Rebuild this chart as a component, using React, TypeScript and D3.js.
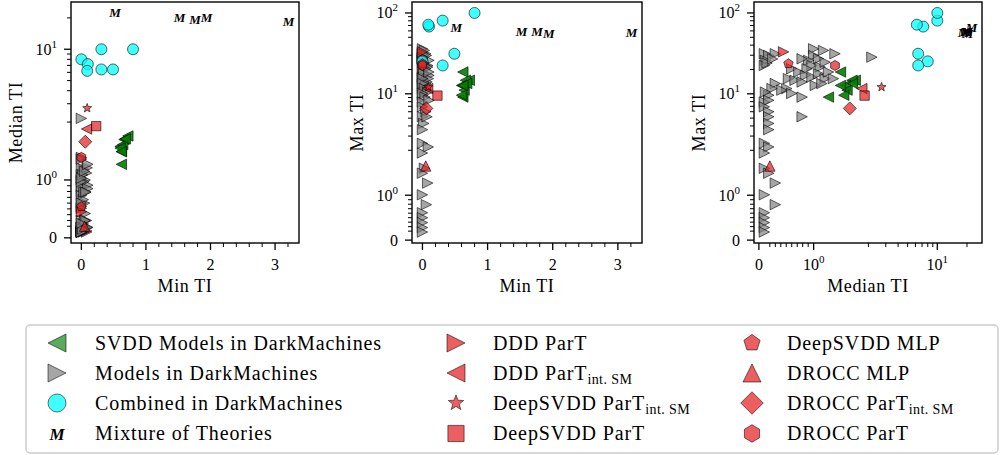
import React from 'react';
import * as d3 from 'd3';

// every point is [min TI, median TI, max TI]
type Triple = [number, number, number];

const grayModels: Triple[] = [
  [0.00, 0.10, 31.3], [0.02, 0.18, 29.8], [0.05, 0.30, 31.3], [0.00, 0.12, 25.9],
  [0.08, 0.10, 22.4], [0.00, 1.00, 36.0], [0.03, 1.18, 34.4], [0.00, 1.39, 31.3],
  [0.06, 1.00, 29.8], [0.00, 1.09, 27.1], [0.10, 0.91, 25.9], [0.00, 0.79, 27.1],
  [0.04, 0.97, 22.4], [0.00, 0.88, 20.4], [0.08, 1.12, 21.4], [0.00, 1.21, 24.6],
  [0.00, 2.17, 28.4], [0.05, 0.60, 20.4], [0.00, 0.73, 18.6], [0.10, 0.85, 16.9],
  [0.00, 0.54, 15.4], [0.03, 0.66, 14.7], [0.07, 0.79, 14.0], [0.00, 0.97, 16.1],
  [0.02, 1.09, 17.7], [0.09, 1.21, 15.4], [0.00, 1.03, 12.7], [0.05, 1.15, 13.4],
  [0.00, 1.36, 15.4], [0.10, 1.27, 18.6], [0.00, 0.51, 11.6], [0.06, 0.42, 11.1],
  [0.00, 0.30, 13.4], [0.03, 0.24, 11.6], [0.00, 0.18, 9.6], [0.08, 0.12, 10.5],
  [0.00, 0.60, 10.1], [0.04, 0.79, 9.1], [0.00, 0.10, 7.9], [0.10, 0.18, 8.3],
  [0.00, 0.10, 6.9], [0.05, 0.18, 6.0], [0.00, 0.18, 5.2], [0.02, 0.18, 4.3],
  [0.00, 0.18, 3.6], [0.07, 0.79, 5.2], [0.00, 0.10, 2.44], [0.09, 0.18, 2.2],
  [0.00, 0.10, 1.94], [0.03, 0.10, 1.6], [0.00, 0.18, 1.49], [0.08, 0.30, 1.27],
  [0.00, 0.10, 1.01], [0.06, 0.30, 0.79], [0.00, 0.10, 0.61], [0.00, 0.10, 0.50],
  [0.00, 0.10, 0.39], [0.00, 0.10, 0.28], [0.00, 0.10, 0.18], [0.02, 0.15, 24.0],
  [0.00, 0.25, 27.0],
];

const svddModels: Triple[] = [
  [0.62, 1.27, 9.1], [0.62, 1.49, 18.6], [0.72, 1.76, 14.7], [0.66, 1.70, 14.7],
  [0.60, 1.58, 12.7], [0.64, 1.61, 11.1], [0.60, 1.55, 9.6], [0.68, 1.71, 13.4],
  [0.62, 1.49, 12.7],
];

const combinedModels: Triple[] = [
  [0.00, 8.0, 25.2], [0.10, 7.2, 67.8], [0.09, 6.2, 71.6], [0.31, 6.4, 22.4],
  [0.49, 6.4, 31.3], [0.31, 10.0, 80.4], [0.80, 10.0, 100],
];

const mixtureModels: Triple[] = [
  [0.52, 22.3, 66.4], [1.52, 20.0, 58.8], [1.76, 19.3, 58.8], [1.94, 20.3, 55.1],
  [3.21, 18.4, 57.6],
];

const ownModelNames = [
  'DDD ParT', 'DDD ParT|int. SM', 'DeepSVDD ParT|int. SM', 'DeepSVDD ParT',
  'DeepSVDD MLP', 'DROCC MLP', 'DROCC ParT|int. SM', 'DROCC ParT',
];
const ownModelValues: Triple[] = [
  [0.00, 0.45, 33.0], [0.08, 1.88, 11.6], [0.09, 2.72, 12.1], [0.23, 1.93, 9.5],
  [0.00, 0.54, 23.6], [0.05, 0.20, 1.65], [0.06, 1.66, 6.6], [0.00, 1.39, 22.4],
];

const axisNames = ['Min TI', 'Median TI', 'Max TI'];

// ---- styling ----
const FONT = '"Liberation Serif", "Times New Roman", Tinos, "DejaVu Serif", "Noto Serif", Times, serif';
const ownShapes = ['tri-right', 'tri-left', 'star', 'square', 'pentagon', 'tri-up', 'diamond', 'hexagon'];
const RED = '#e41a1c';

// matplotlib-like symlog, linthresh 2, linscale 1
const LINTHRESH = 2;
const LINSCALE = 1 / (1 - 1 / 10);
const symlog = (v: number) => {
  const a = Math.abs(v);
  if (a <= LINTHRESH) return v * LINSCALE;
  return Math.sign(v) * LINTHRESH * (LINSCALE + Math.log10(a / LINTHRESH));
};

function markerPath(shape: string, s: number): string {
  const poly = (pts: [number, number][]) => (d3.line()(pts) as string) + 'Z';
  const regular = (n: number, r: number, rot: number) =>
    poly(d3.range(n).map(i => {
      const a = rot + (i * 2 * Math.PI) / n;
      return [r * Math.sin(a), -r * Math.cos(a)] as [number, number];
    }));
  switch (shape) {
    case 'tri-right': return poly([[s, 0], [-s, -s], [-s, s]]);
    case 'tri-left': return poly([[-s, 0], [s, -s], [s, s]]);
    case 'tri-up': return poly([[0, -s], [-s, s], [s, s]]);
    case 'square': return poly([[-s * 0.9, -s * 0.9], [s * 0.9, -s * 0.9], [s * 0.9, s * 0.9], [-s * 0.9, s * 0.9]]);
    case 'diamond': return poly([[0, -s * 1.25], [s * 1.25, 0], [0, s * 1.25], [-s * 1.25, 0]]);
    case 'pentagon': return regular(5, s * 0.95, 0);
    case 'hexagon': return regular(6, s * 0.97, 0);
    case 'star':
      return poly(d3.range(10).map(i => {
        const r = i % 2 === 0 ? s * 0.9 : s * 0.38;
        const a = (i * Math.PI) / 5;
        return [r * Math.sin(a), -r * Math.cos(a)] as [number, number];
      }));
    default:
      return `M${s},0A${s},${s} 0 1,1 ${-s},0A${s},${s} 0 1,1 ${s},0Z`;
  }
}

type Group = { key: string; data: Triple[]; shape: string; fill: string; op: number; size: number };

const groups: Group[] = [
  { key: 'gray', data: grayModels, shape: 'tri-right', fill: '#808080', op: 0.7, size: 5.2 },
  { key: 'svdd', data: svddModels, shape: 'tri-left', fill: '#008000', op: 0.9, size: 5.2 },
  { key: 'comb', data: combinedModels, shape: 'circle', fill: '#00ffff', op: 0.75, size: 5.5 },
  ...ownModelNames.map((n, i) => ({
    key: n, data: [ownModelValues[i]], shape: ownShapes[i], fill: RED, op: 0.7, size: 5.2,
  })),
];

const TOP = 2;
const BOTTOM = 243;
const panels = [
  { xi: 0, yi: 1, left: 71, right: 299, xLog: false },
  { xi: 0, yi: 2, left: 412, right: 642, xLog: false },
  { xi: 1, yi: 2, left: 754, right: 982, xLog: true },
];

const allPoints: Triple[] = [
  ...grayModels, ...svddModels, ...combinedModels, ...mixtureModels, ...ownModelValues,
];

function paddedDomain(vals: number[]): [number, number] {
  const [lo, hi] = d3.extent(vals) as [number, number];
  const pad = (hi - lo) * 0.05;
  return [lo - pad, hi + pad];
}

const SYM_MAJOR = [0, 1, 10, 100];
const SYM_MINOR = [
  ...d3.range(2, 10).map(k => k / 10), ...d3.range(2, 10), ...d3.range(2, 10).map(k => k * 10),
];

function TickLabel({ v, log, ...rest }: any) {
  if (!log || v === 0) return <text {...rest}>{d3.format('d')(v)}</text>;
  const e = Math.round(Math.log10(v));
  return (
    <text {...rest}>
      10<tspan fontSize={11} dy={-7}>{e}</tspan>
    </text>
  );
}

function Panel({ p }: { p: typeof panels[number] }) {
  const xf = p.xLog ? symlog : (v: number) => v;
  const yf = symlog;
  const xDom = paddedDomain(allPoints.map(d => xf(d[p.xi])));
  const yDom = paddedDomain(allPoints.map(d => yf(d[p.yi])));
  const xs = d3.scaleLinear().domain(xDom).range([p.left, p.right]);
  const ys = d3.scaleLinear().domain(yDom).range([BOTTOM, TOP]);
  const X = (v: number) => xs(xf(v));
  const Y = (v: number) => ys(yf(v));
  const inX = (v: number) => xf(v) >= xDom[0] && xf(v) <= xDom[1];
  const inY = (v: number) => yf(v) >= yDom[0] && yf(v) <= yDom[1];

  const xMajor = p.xLog ? SYM_MAJOR.filter(inX) : xs.ticks(4).filter(v => Number.isInteger(v));
  const xMinor = p.xLog
    ? SYM_MINOR.filter(inX)
    : d3.range(-1, 20).map(k => k / 5).filter(v => inX(v) && !Number.isInteger(v));
  const yMajor = SYM_MAJOR.filter(inY);
  const yMinor = SYM_MINOR.filter(inY);
  const cx = (p.left + p.right) / 2;
  const cy = (TOP + BOTTOM) / 2;

  return (
    <g>
      {groups.map(g => (
        <g key={g.key}>
          {g.data.map((d, i) => (
            <path
              key={i}
              d={markerPath(g.shape, g.size)}
              transform={`translate(${X(d[p.xi])},${Y(d[p.yi])})`}
              fill={g.fill}
              fillOpacity={g.op}
              stroke="#000"
              strokeOpacity={0.75}
              strokeWidth={0.8}
            />
          ))}
        </g>
      ))}
      {mixtureModels.map((d, i) => (
        <text
          key={i}
          x={X(d[p.xi])}
          y={Y(d[p.yi]) + 4.5}
          textAnchor="middle"
          fontStyle="italic"
          fontWeight="bold"
          fontSize={13}
        >
          M
        </text>
      ))}
      <rect x={p.left} y={TOP} width={p.right - p.left} height={BOTTOM - TOP} fill="none" stroke="#000" strokeWidth={1.4} />
      {xMajor.map(v => (
        <g key={'xM' + v}>
          <line x1={X(v)} x2={X(v)} y1={BOTTOM} y2={BOTTOM + 7} stroke="#000" strokeWidth={1.3} />
          <TickLabel v={v} log={p.xLog} x={X(v)} y={BOTTOM + 27} textAnchor="middle" fontSize={16} />
        </g>
      ))}
      {xMinor.map(v => (
        <line key={'xm' + v} x1={X(v)} x2={X(v)} y1={BOTTOM} y2={BOTTOM + 4} stroke="#000" strokeWidth={1} />
      ))}
      {yMajor.map(v => (
        <g key={'yM' + v}>
          <line x1={p.left - 7} x2={p.left} y1={Y(v)} y2={Y(v)} stroke="#000" strokeWidth={1.3} />
          <TickLabel v={v} log x={p.left - 14} y={Y(v) + 5.5} textAnchor="end" fontSize={16} />
        </g>
      ))}
      {yMinor.map(v => (
        <line key={'ym' + v} x1={p.left - 4} x2={p.left} y1={Y(v)} y2={Y(v)} stroke="#000" strokeWidth={1} />
      ))}
      <text x={cx} y={292} textAnchor="middle" fontSize={18} letterSpacing={0.6}>
        {axisNames[p.xi]}
      </text>
      <text
        transform={`translate(${p.left - 49},${cy}) rotate(-90)`}
        textAnchor="middle"
        fontSize={18}
        letterSpacing={0.6}
      >
        {axisNames[p.yi]}
      </text>
    </g>
  );
}

function LegendLabel({ name, x, y }: { name: string; x: number; y: number }) {
  const [main, sub] = name.split('|');
  return (
    <text x={x} y={y} fontSize={20} letterSpacing={0.9}>
      {main}
      {sub && (
        <tspan fontSize={14} dy={4.5} letterSpacing={0.4}>
          {sub}
        </tspan>
      )}
    </text>
  );
}

const legendItems = [
  { name: 'SVDD Models in DarkMachines', shape: 'tri-left', fill: '#008000', op: 0.65 },
  { name: 'Models in DarkMachines', shape: 'tri-right', fill: '#808080', op: 0.7 },
  { name: 'Combined in DarkMachines', shape: 'circle', fill: '#00ffff', op: 0.75 },
  { name: 'Mixture of Theories', shape: 'M', fill: '#000', op: 1 },
  ...ownModelNames.map((n, i) => ({ name: n, shape: ownShapes[i], fill: RED, op: 0.7 })),
];

function Legend() {
  const colMarker = [57, 456, 752];
  const colText = [95, 493, 787];
  const rowY = [343, 373, 403, 433.5];
  return (
    <g>
      <rect x={26} y={325} width={972} height={128} rx={4} fill="#fff" stroke="#cccccc" strokeWidth={1.5} />
      {legendItems.map((it, i) => {
        const c = Math.floor(i / 4);
        const r = i % 4;
        const mx = colMarker[c];
        const my = rowY[r];
        return (
          <g key={it.name}>
            {it.shape === 'M' ? (
              <text x={mx} y={my + 6} textAnchor="middle" fontStyle="italic" fontWeight="bold" fontSize={17}>
                M
              </text>
            ) : (
              <path
                d={markerPath(it.shape, 9)}
                transform={`translate(${mx},${my})`}
                fill={it.fill}
                fillOpacity={it.op}
                stroke="#000"
                strokeOpacity={0.6}
                strokeWidth={0.9}
              />
            )}
            <LegendLabel name={it.name} x={colText[c]} y={my + 6.5} />
          </g>
        );
      })}
    </g>
  );
}

export default function App() {
  return (
    <svg
      width={1000}
      height={455}
      style={{ position: 'absolute', left: 0, top: 0, background: '#fff', fontFamily: FONT }}
    >
      <rect width={1000} height={455} fill="#fff" />
      {panels.map((p, i) => (
        <Panel key={i} p={p} />
      ))}
      <Legend />
    </svg>
  );
}
